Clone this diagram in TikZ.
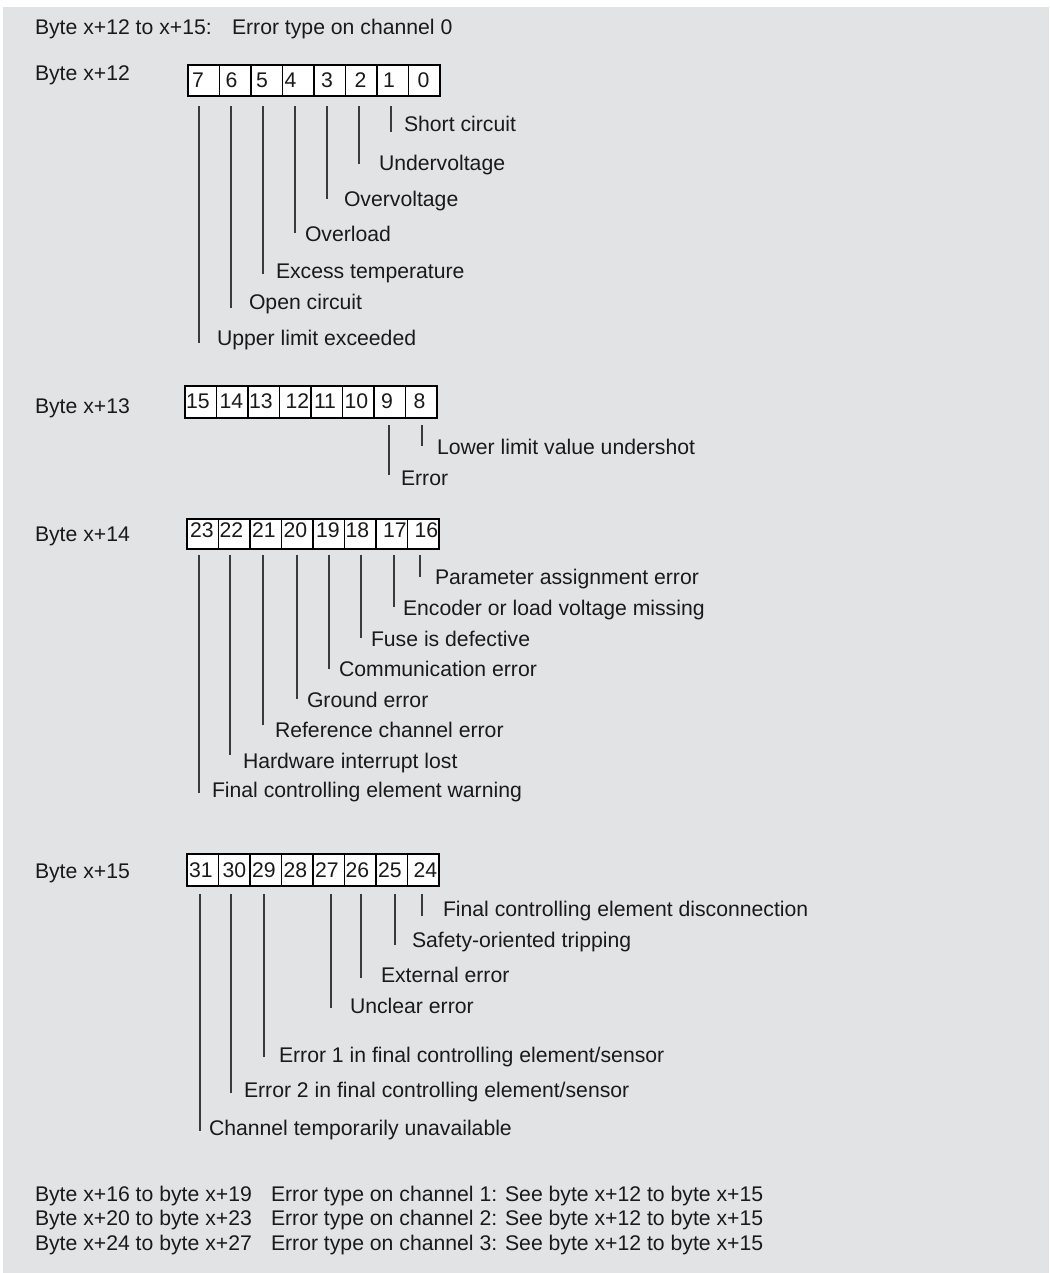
\documentclass[tikz,border=0pt]{standalone}
\usepackage{fontspec}
\setmainfont{Liberation Sans}
\definecolor{bgc}{HTML}{E2E3E5}
\definecolor{linec}{HTML}{3A3A3A}
\definecolor{textc}{HTML}{1A1A1A}
\begin{document}
\begin{tikzpicture}[x=1pt,y=-1pt,
  every node/.style={inner sep=0pt,outer sep=0pt},
  txt/.style={anchor=base west,font=\fontsize{21.2}{25}\selectfont,text=textc},
  cell/.style={draw=black,line width=1.5pt,fill=white,minimum width=31.5pt,anchor=north west},
  leader/.style={draw=linec,line width=1.3pt}]
\useasboundingbox (0,0) rectangle (1049,1273);
\fill[bgc] (3,7) rectangle (1049,1273);
% header
\node[txt] (h1) at (35,35) {Byte x+12 to x+15:};
\node[txt] (h2) at (232,35) {Error type on channel 0};
% byte labels
\node[txt] (b12) at (35,81) {Byte x+12};
\node[txt] (b13) at (35,413) {Byte x+13};
\node[txt] (b14) at (35,541) {Byte x+14};
\node[txt] (b15) at (35,878) {Byte x+15};
% row x+12
\foreach \d/\o [count=\i from 0] in {7/4,6/6,5/5,4/2,3/7,2/9,1/6,0/9}{
  \node[cell,minimum height=31pt] (c\d) at ({188+31.5*\i},65) {};
  \node[txt] (d\d) at ({188+31.5*\i+\o},88) {\d};
}
% row x+13
\foreach \d/\o [count=\i from 0] in {15/1,14/3,13/1,12/6,11/3,10/2,9/7,8/8}{
  \node[cell,minimum height=32pt] (c\d) at ({185+31.5*\i},386) {};
  \node[txt] (d\d) at ({185+31.5*\i+\o},408) {\d};
}
% row x+14
\foreach \d/\o [count=\i from 0] in {23/3,22/1,21/2,20/2,19/3,18/1,17/7,16/7}{
  \node[cell,minimum height=30pt] (c\d) at ({187+31.5*\i},519) {};
  \node[txt] (d\d) at ({187+31.5*\i+\o},537.5) {\d};
}
% row x+15
\foreach \d/\o [count=\i from 0] in {31/2,30/4,29/2,28/2,27/2,26/1,25/2,24/6}{
  \node[cell,minimum height=32pt] (c\d) at ({187+31.5*\i},854) {};
  \node[txt] (d\d) at ({187+31.5*\i+\o},877.5) {\d};
}
% labels and leaders, row x+12
\foreach \n/\x/\y/\lx/\ly/\t in {
  l1/391/132/404/132/{Short circuit},
  l2/359/164/379/171/{Undervoltage},
  l3/327/199/344/207/{Overvoltage},
  l4/295/233/305/241/{Overload},
  l5/263/274/276/278/{Excess temperature},
  l6/231/308/249/309/{Open circuit},
  l7/199/343/217/345/{Upper limit exceeded}}{
  \node[txt] (\n) at (\lx,\ly) {\t};
  \draw[leader] (\x,106) -- (\x,\y);
}
% row x+13
\foreach \n/\x/\y/\lx/\ly/\t in {
  l8/422/446/437/454/{Lower limit value undershot},
  l9/389/475/401/485/{Error}}{
  \node[txt] (\n) at (\lx,\ly) {\t};
  \draw[leader] (\x,425) -- (\x,\y);
}
% row x+14
\foreach \n/\x/\y/\lx/\ly/\t in {
  l16/420/577/435/584/{Parameter assignment error},
  l17/394/607/403/615/{Encoder or load voltage missing},
  l18/361/638/371/646/{Fuse is defective},
  l19/329/669/339/676/{Communication error},
  l20/297/699/307/707/{Ground error},
  l21/263/725/275/737/{Reference channel error},
  l22/230/755/243/768/{Hardware interrupt lost},
  l23/199/793/212/797/{Final controlling element warning}}{
  \node[txt] (\n) at (\lx,\ly) {\t};
  \draw[leader] (\x,555) -- (\x,\y);
}
% row x+15
\foreach \n/\x/\y/\lx/\ly/\t in {
  l24/422/916/443/916/{Final controlling element disconnection},
  l25/395/945/412/947/{Safety-oriented tripping},
  l26/361/978/381/982/{External error},
  l27/331/1008/350/1013/{Unclear error},
  l29/264/1057/279/1062/{Error 1 in final controlling element/sensor},
  l30/231/1093/244/1097/{Error 2 in final controlling element/sensor},
  l31/200/1131/209/1135/{Channel temporarily unavailable}}{
  \node[txt] (\n) at (\lx,\ly) {\t};
  \draw[leader] (\x,894) -- (\x,\y);
}
% footer
\node[txt] (f1a) at (35,1201) {Byte x+16 to byte x+19};
\node[txt] (f1b) at (271,1201) {Error type on channel 1: See byte x+12 to byte x+15};
\node[txt] (f2a) at (35,1225) {Byte x+20 to byte x+23};
\node[txt] (f2b) at (271,1225) {Error type on channel 2: See byte x+12 to byte x+15};
\node[txt] (f3a) at (35,1250) {Byte x+24 to byte x+27};
\node[txt] (f3b) at (271,1250) {Error type on channel 3: See byte x+12 to byte x+15};
\end{tikzpicture}
\end{document}
